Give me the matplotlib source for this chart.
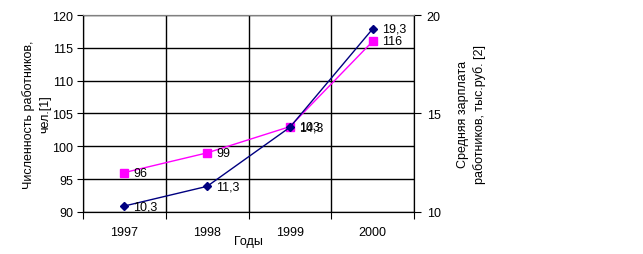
import matplotlib
matplotlib.use("Agg")
from matplotlib import pyplot as plt

plt.rcParams["font.family"] = ["Liberation Sans", "DejaVu Sans"]
plt.rcParams["font.size"] = 9

# data
years = ["1997", "1998", "1999", "2000"]
workers = [96, 99, 103, 116]          # численность, чел. (left axis)
salary = [10.3, 11.3, 14.3, 19.3]     # зарплата, тыс.руб. (right axis)

fig = plt.figure(figsize=(6.43, 2.55), dpi=100)
ax = fig.add_axes([0.129, 0.165, 0.515, 0.772])
ax2 = ax.twinx()

pos = [i + 0.5 for i in range(len(years))]

# left axis: workers
ax.plot(pos, workers, color="#FF00FF", lw=1, marker="s", ms=5.5,
        markerfacecolor="#FF00FF", markeredgecolor="#FF00FF", zorder=3)
for x, v in zip(pos, workers):
    ax.annotate(str(v), (x, v), xytext=(6.5, 0), textcoords="offset points",
                va="center", ha="left")

ax.set_xlim(0, len(years))
ax.set_ylim(90, 120)
ax.set_yticks(range(90, 121, 5))
ax.set_xticks(range(len(years) + 1))
ax.set_xticklabels([])
ax.set_xticks(pos, minor=True)
ax.set_xticklabels(years, minor=True)
ax.tick_params(axis="x", which="minor", length=0, pad=10)
ax.tick_params(axis="x", which="major", direction="out", length=5)
ax.tick_params(axis="y", direction="out", length=4, pad=3)
ax.grid(True, which="major", color="black", lw=1)
ax.set_axisbelow(True)
ax.set_xlabel("Годы", labelpad=-2)
ax.set_ylabel("Численность работников,\nчел.[1]", labelpad=1, linespacing=1.4)

# right axis: salary
ax2.plot(pos, salary, color="#000080", lw=1, marker="D", ms=4,
         markerfacecolor="#000080", markeredgecolor="#000080", zorder=3)
for x, v in zip(pos, salary):
    ax2.annotate(f"{v:.1f}".replace(".", ","), (x, v), xytext=(6.5, 0),
                 textcoords="offset points", va="center", ha="left")
ax2.set_ylim(10, 20)
ax2.set_yticks([10, 15, 20])
ax2.tick_params(axis="y", direction="out", length=5, pad=4)
ax2.set_ylabel("Средняя зарплата\nработников, тыс.руб. [2]", labelpad=12,
               linespacing=1.4)

for a in (ax, ax2):
    for s in ("left", "right", "bottom"):
        a.spines[s].set_color("black")
    a.spines["top"].set_color("#808080")

fig.savefig("out.png", dpi=100)
